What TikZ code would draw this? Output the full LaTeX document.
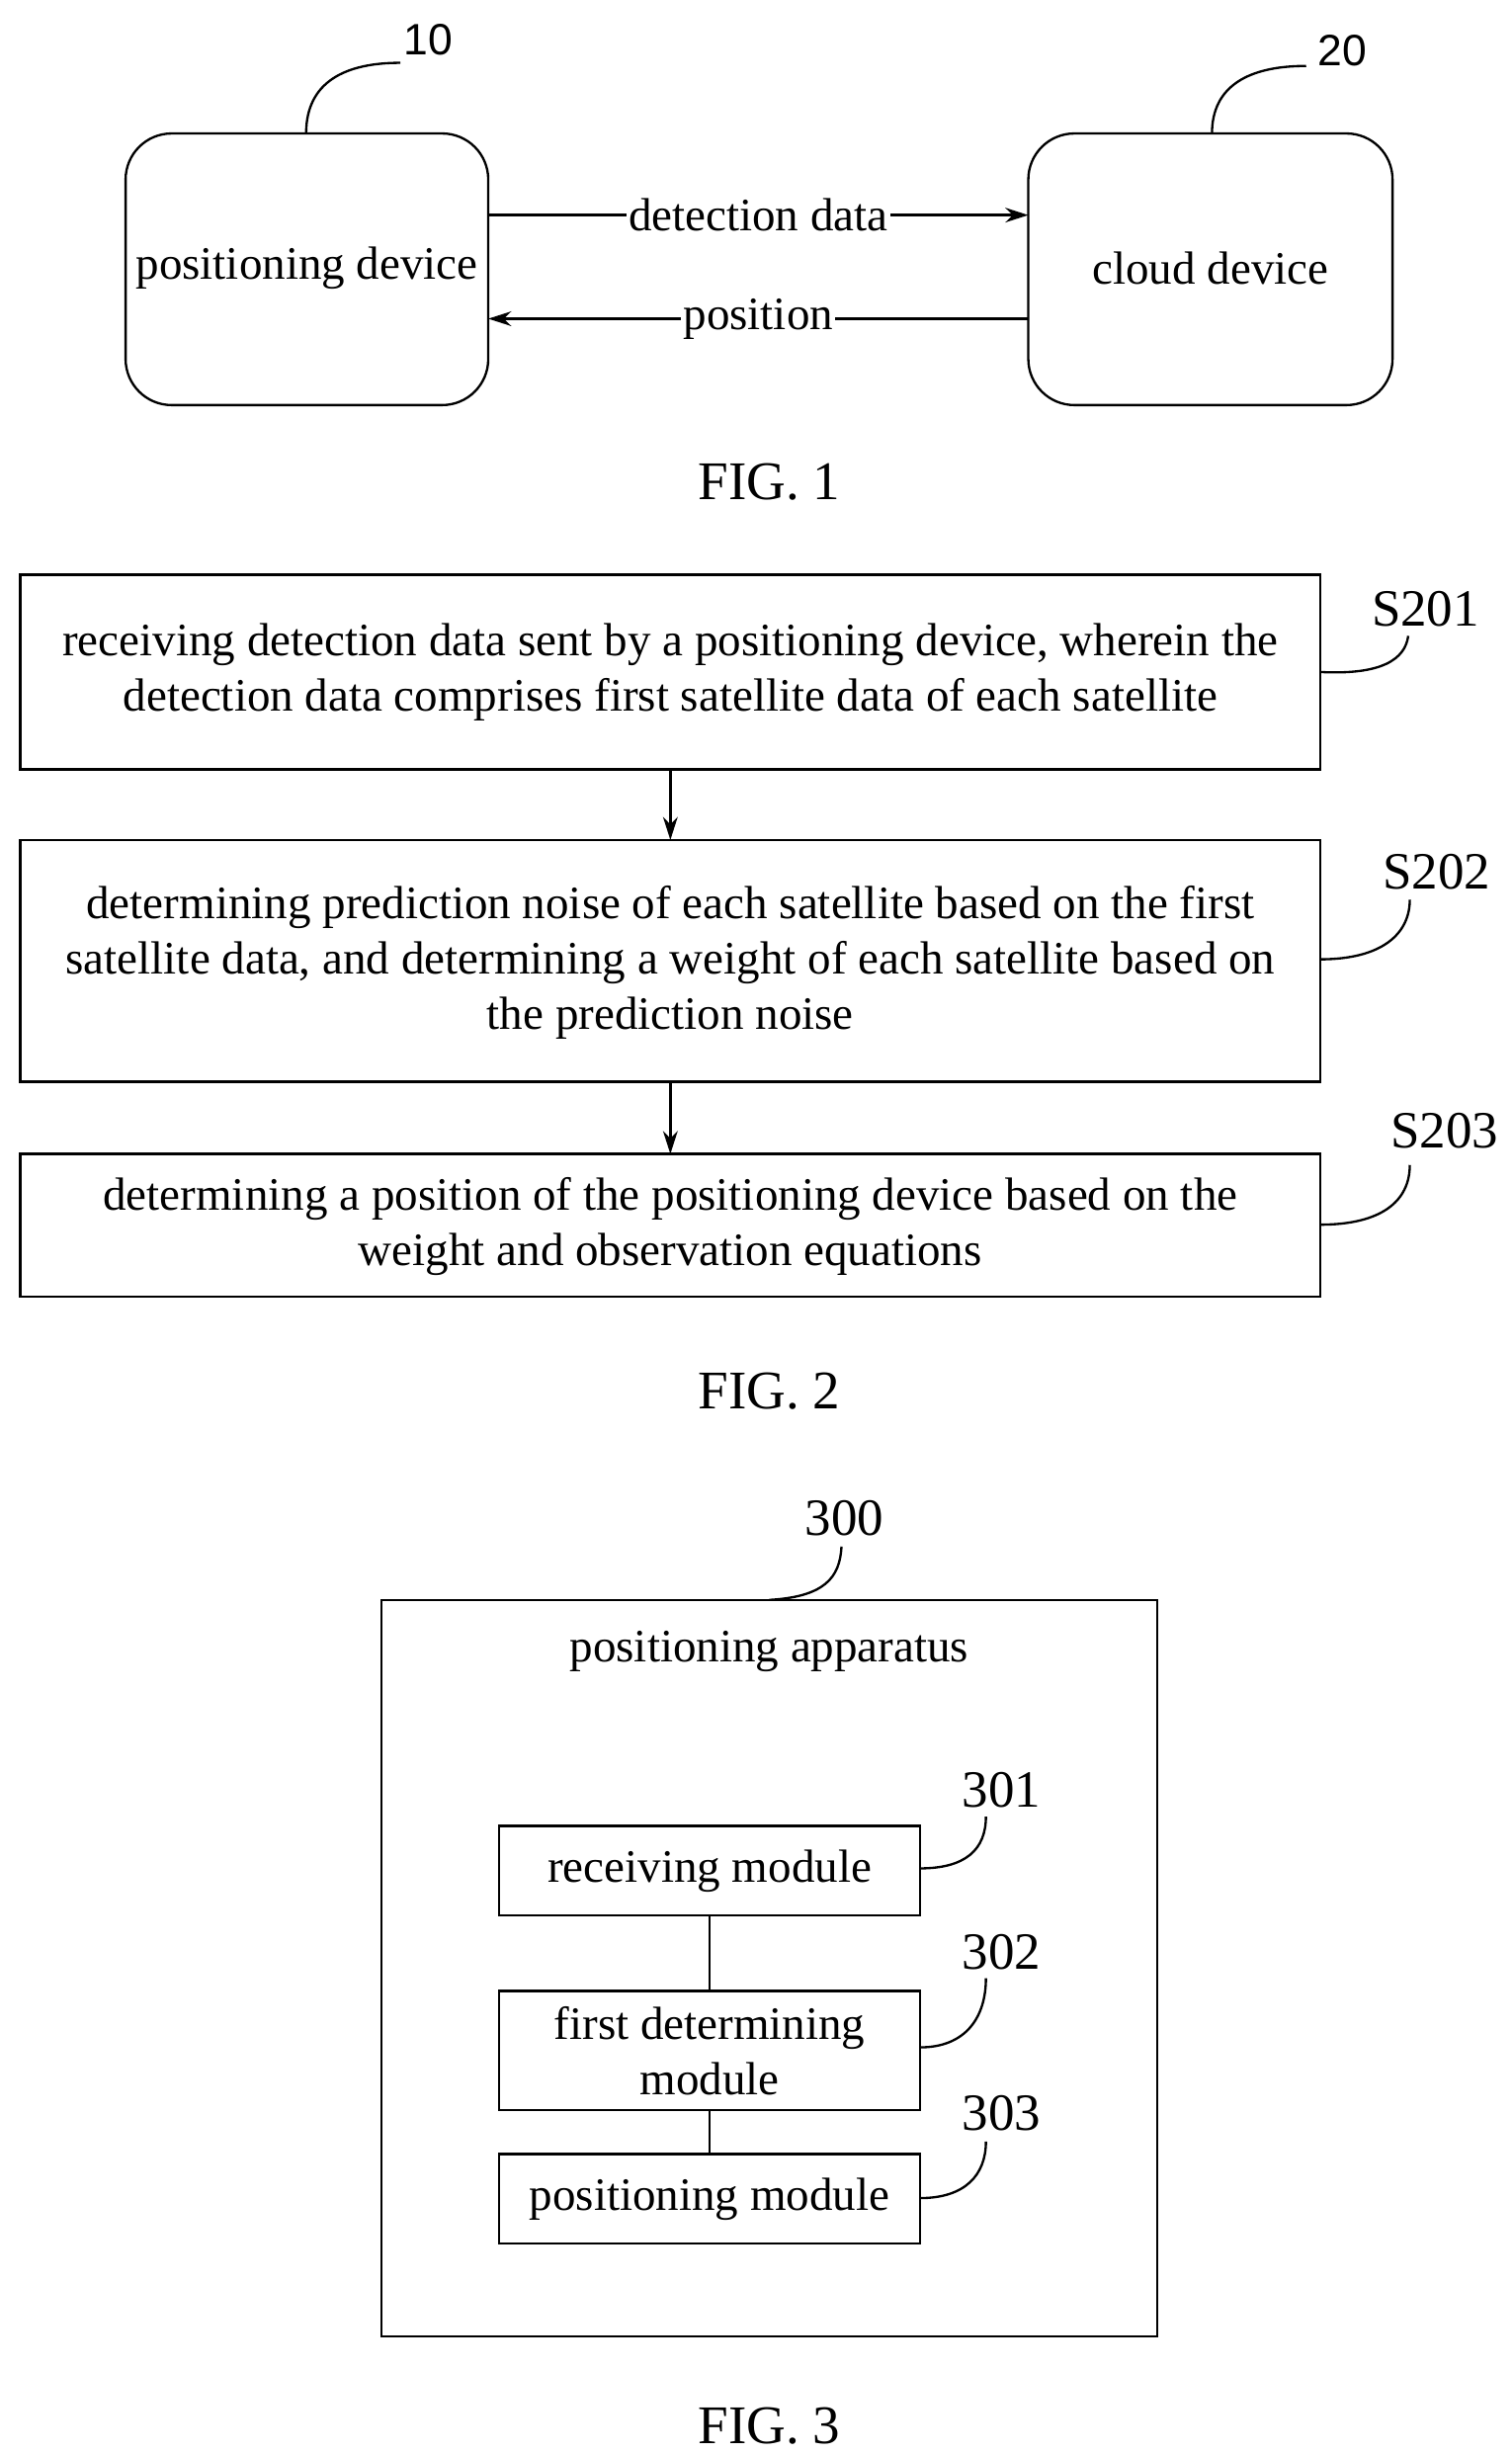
\documentclass[tikz,border=0pt]{standalone}
\usepackage{fontspec}
\setmainfont{Liberation Serif}
\newfontfamily\labsans{Liberation Sans}
\usetikzlibrary{arrows.meta}
\begin{document}
\begin{tikzpicture}[x=0.75pt,y=-0.75pt,line width=1.1pt,
  txt/.style={font=\fontsize{22.2}{26.5}\selectfont,align=center,inner sep=0pt},
  fig/.style={font=\fontsize{26}{30}\selectfont,inner sep=0pt},
  rbox/.style={draw,rounded corners=22pt},
  sbox/.style={draw},
  arr/.style={-{Stealth[length=11pt,width=7pt]}},
  lead/.style={line width=1.1pt},
  num/.style={font=\fontsize{25}{28}\selectfont,inner sep=0pt},
  sans/.style={font=\labsans\fontsize{21}{24}\selectfont,inner sep=0pt}]
\useasboundingbox (0,0) rectangle (963,1563);
% FIG 1
\draw[rbox] (80,85) rectangle (311,258);
\draw[rbox] (655,85) rectangle (887,258);
\node[txt] (pd) at (195.5,171) {positioning device};
\node[txt] (cd) at (771,171) {cloud device};
\coordinate (a1) at (311,137); \coordinate (b1) at (655,137);
\coordinate (a2) at (655,203); \coordinate (b2) at (311,203);
\draw[arr] (a1) -- (b1) node[midway,txt,fill=white,inner sep=1pt] {detection data};
\draw[arr] (a2) -- (b2) node[midway,txt,fill=white,inner sep=1pt] {position};
\node[sans] (l10) at (273,25) {10};
\node[sans] (l20) at (855,32) {20};
\draw[lead] (195,85) .. controls (195,52) and (220,40) .. (255,40);
\draw[lead] (772,85) .. controls (772,55) and (795,42) .. (832,42);
\node[fig] (f1) at (490,307) {FIG. 1};
% FIG 2
\draw[sbox] (13,366) rectangle (841,490);
\node[txt] (t1) at (427,428) {receiving detection data sent by a positioning device, wherein the\\detection data comprises first satellite data of each satellite};
\draw[sbox] (13,535) rectangle (841,689);
\node[txt] (t2) at (427,613) {determining prediction noise of each satellite based on the first\\satellite data, and determining a weight of each satellite based on\\the prediction noise};
\draw[sbox] (13,735) rectangle (841,826);
\node[txt] (t3) at (427,781) {determining a position of the positioning device based on the\\weight and observation equations};
\coordinate (c1) at (427,490); \coordinate (c2) at (427,535);
\coordinate (c3) at (427,689); \coordinate (c4) at (427,735);
\draw[arr] (c1) -- (c2);
\draw[arr] (c3) -- (c4);
\node[num] (s1) at (908,388) {S201};
\node[num] (s2) at (915,555) {S202};
\node[num] (s3) at (920,720) {S203};
\draw[lead] (841,428) .. controls (880,430) and (895,420) .. (897,405);
\draw[lead] (841,611) .. controls (880,611) and (898,595) .. (898,573);
\draw[lead] (841,780) .. controls (880,780) and (898,765) .. (898,742);
\node[fig] (f2) at (490,886) {FIG. 2};
% FIG 3
\draw[sbox] (243,1019) rectangle (737,1488);
\node[num] (n300) at (538,967) {300};
\draw[lead] (490,1019) .. controls (525,1017) and (535,1005) .. (536,985);
\node[txt] (pa) at (490,1052) {positioning apparatus};
\node[sbox,minimum width=268*0.75pt,minimum height=57*0.75pt,txt] (m1) at (452,1191.5) {receiving module};
\node[sbox,minimum width=268*0.75pt,minimum height=76*0.75pt,txt] (m2) at (452,1306) {first determining\\module};
\node[sbox,minimum width=268*0.75pt,minimum height=57*0.75pt,txt] (m3) at (452,1400.5) {positioning module};
\draw (m1) -- (m2);
\draw (m2) -- (m3);
\node[num] (n301) at (638,1140) {301};
\node[num] (n302) at (638,1243) {302};
\node[num] (n303) at (638,1346) {303};
\draw[lead] (586,1190) .. controls (615,1190) and (628,1178) .. (628,1157);
\draw[lead] (586,1304) .. controls (615,1304) and (628,1285) .. (628,1260);
\draw[lead] (586,1400) .. controls (615,1400) and (628,1385) .. (628,1364);
\node[fig] (f3) at (490,1545) {FIG. 3};
\end{tikzpicture}
\end{document}
